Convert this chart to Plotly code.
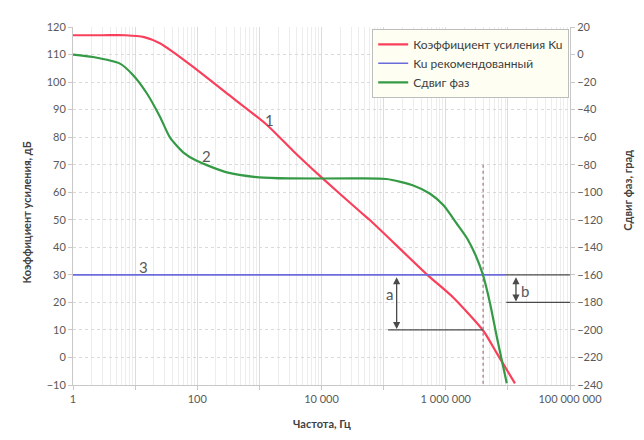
import math
import plotly.graph_objects as go

# ---- data ----
gain_freq = [1, 3, 7, 14, 25, 41, 86, 300, 1300, 3500, 10000, 42000, 60000,
             500000, 1330000, 4000000, 6700000, 13000000]
gain_db = [117, 117, 117, 116.3, 114.1, 110.9, 105.5, 95.9, 84.6, 75.0, 65.4,
           52.9, 49.9, 30.1, 21.7, 9.8, 1.4, -9.4]

phase_freq = [1, 2.1, 5.7, 9.3, 15.4, 25, 36.5, 60, 98, 300, 1000, 3000, 30000,
              112000, 300000, 560000, 920000, 1500000, 2200000, 3000000,
              3950000, 5200000, 6650000, 9600000]
phase_deg = [0, -1.8, -6.6, -15, -28.1, -45, -60.4, -71.2, -77.2, -85.6, -89.2,
             -90, -90, -90.4, -95.1, -101.1, -109.5, -122.7, -133.4, -145.4,
             -159.7, -181.3, -205.3, -238.7]

rec_freq = [1, 9000000]
rec_db = [30, 30]

x_tickvals = [1, 10, 100, 1000, 10000, 100000, 1000000, 10000000, 100000000]
x_ticktext = ["1", "", "100", "", "10 000", "", "1 000 000", "", "100 000 000"]

# annotation geometry values
cross_freq = 4000000          # frequency where phase = -160
gain_at_cross = 10
rec_level = 30
phase_margin_level = 20       # -180 deg on right axis
a_freq = 162000
b_freq = 13500000
a_line_start = 118000
b_line_start = 9000000
x_end = 100000000

RED = "#f8405c"
GREEN = "#359a45"
BLUE = "#6b6bdc"
DARK = "#4a4a4a"
TXT = "#595959"
FONT = "Lato, 'Open Sans', sans-serif"

fig = go.Figure()

fig.add_trace(go.Scatter(x=gain_freq, y=gain_db, mode="lines",
                         name="Коэффициент усиления Ku",
                         line=dict(color=RED, width=2.2, shape="spline", smoothing=0.6)))
fig.add_trace(go.Scatter(x=rec_freq, y=rec_db, mode="lines",
                         name="Ku рекомендованный",
                         line=dict(color=BLUE, width=1.6)))
fig.add_trace(go.Scatter(x=phase_freq, y=phase_deg, mode="lines",
                         name="Сдвиг фаз", yaxis="y2",
                         line=dict(color=GREEN, width=2.2, shape="spline", smoothing=0.6)))

# helper lines
fig.add_trace(go.Scatter(x=[cross_freq, cross_freq], y=[70, -10], mode="lines",
                         showlegend=False, hoverinfo="skip",
                         line=dict(color="#b28c9c", width=1.5, dash="dot")))
fig.add_trace(go.Scatter(x=[a_line_start, cross_freq], y=[gain_at_cross, gain_at_cross],
                         mode="lines", showlegend=False, hoverinfo="skip",
                         line=dict(color=DARK, width=1.2)))
fig.add_trace(go.Scatter(x=[b_line_start, x_end], y=[rec_level, rec_level],
                         mode="lines", showlegend=False, hoverinfo="skip",
                         line=dict(color=DARK, width=1.2)))
fig.add_trace(go.Scatter(x=[b_line_start * 1.05, x_end],
                         y=[phase_margin_level, phase_margin_level],
                         mode="lines", showlegend=False, hoverinfo="skip",
                         line=dict(color=DARK, width=1.2)))

ann = []
for fx, ytop, ybot in [(a_freq, rec_level, gain_at_cross),
                       (b_freq, rec_level, phase_margin_level)]:
    lx = math.log10(fx)
    ann.append(dict(x=lx, y=ybot + 0.3, ax=lx, ay=ytop - 0.3, xref="x", yref="y",
                    axref="x", ayref="y", showarrow=True, arrowhead=2,
                    arrowside="end+start", arrowsize=1.1, arrowwidth=1.3,
                    arrowcolor=DARK, text=""))

for txt, fx, yy in [("1", 1450, 86.4), ("2", 140, 73.2), ("3", 13.5, 32.7),
                    ("a", 123000, 22.9), ("b", 18600000, 24.3)]:
    ann.append(dict(x=math.log10(fx), y=yy, xref="x", yref="y", text=txt,
                    showarrow=False, font=dict(size=15, color=TXT, family=FONT)))

# axis titles (positions relative to plot area 497 x 362 px)
ann.append(dict(x=(18 - 73) / 497, y=(385 - 211) / 362, xref="paper", yref="paper",
                text="<b>Коэффициент усиления, дБ</b>", textangle=-90, showarrow=False,
                font=dict(size=11, color="#404040", family=FONT)))
ann.append(dict(x=(636 - 73) / 497, y=(385 - 188) / 362, xref="paper", yref="paper",
                text="<b>Сдвиг фаз, град</b>", textangle=-90, showarrow=False,
                font=dict(size=11, color="#404040", family=FONT)))
ann.append(dict(x=(322 - 73) / 497, y=(385 - 433) / 362, xref="paper", yref="paper",
                text="<b>Частота, Гц</b>", showarrow=False,
                font=dict(size=11, color="#404040", family=FONT)))

# page body has an 8 px margin, so the figure is drawn 8 px smaller and shifted
fig.update_layout(
    width=636, height=432,
    margin=dict(l=65, r=74, t=15, b=55),
    paper_bgcolor="white", plot_bgcolor="white",
    font=dict(family=FONT, size=11, color=TXT),
    annotations=ann,
    legend=dict(x=0.602, y=0.995, xanchor="left", yanchor="top",
                bgcolor="#fffef2", bordercolor="#bdbdbd", borderwidth=1,
                font=dict(size=12, color="#404040", family=FONT),
                itemwidth=30, tracegroupgap=0),
    xaxis=dict(type="log", range=[0, 8], tickvals=x_tickvals, ticktext=x_ticktext,
               showgrid=True, gridcolor="#dcdcdc", gridwidth=1,
               minor=dict(dtick="D1", showgrid=True, gridcolor="#ededed", ticks=""),
               showline=True, linecolor="#c8c8c8", ticks="outside", ticklen=4,
               tickcolor="#c8c8c8", zeroline=False,
               tickfont=dict(size=11, color=TXT)),
    yaxis=dict(range=[-10, 120], dtick=10, showgrid=True, gridcolor="#dadada",
               griddash="dot", showline=True, linecolor="#c8c8c8", ticks="outside",
               ticklen=4, tickcolor="#c8c8c8", zeroline=False,
               tickfont=dict(size=11, color=TXT)),
    yaxis2=dict(range=[-240, 20], dtick=20, overlaying="y", side="right",
                showgrid=False, showline=True, linecolor="#c8c8c8", ticks="outside",
                ticklen=4, tickcolor="#c8c8c8", zeroline=False,
                tickfont=dict(size=11, color=TXT)),
)

fig.write_html("out.html")
